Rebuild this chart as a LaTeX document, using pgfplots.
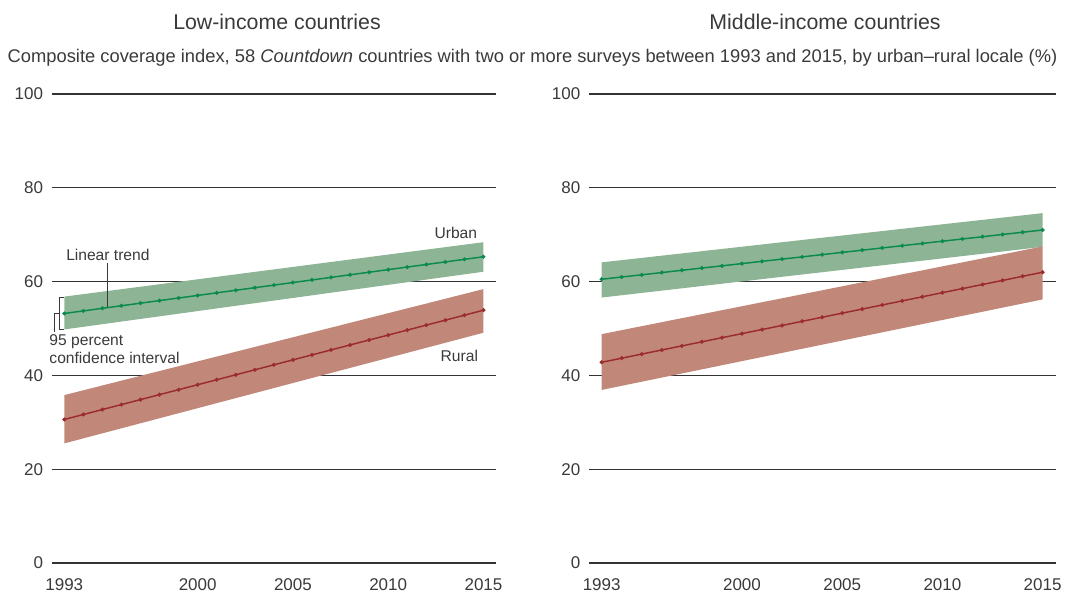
\documentclass[border=0pt]{standalone}
\usepackage{pgfplots}
\pgfplotsset{compat=1.18}
\usepackage{fontspec}
\setmainfont{Liberation Sans}
\definecolor{txt}{HTML}{3A3A3A}
\definecolor{grid}{HTML}{333333}
\definecolor{gband}{HTML}{8DB595}
\definecolor{gline}{HTML}{0A8A4C}
\definecolor{rband}{HTML}{C1887A}
\definecolor{rline}{HTML}{9B2B2E}

\pgfplotstableread{
year lu lr mu mr
1993 53.20 30.60 60.50 42.80
1994 53.75 31.66 60.98 43.67
1995 54.30 32.72 61.45 44.55
1996 54.85 33.78 61.93 45.42
1997 55.40 34.84 62.41 46.29
1998 55.95 35.90 62.89 47.16
1999 56.50 36.95 63.36 48.04
2000 57.05 38.01 63.84 48.91
2001 57.60 39.07 64.32 49.78
2002 58.15 40.13 64.80 50.65
2003 58.70 41.19 65.27 51.53
2004 59.25 42.25 65.75 52.40
2005 59.80 43.31 66.23 53.27
2006 60.35 44.37 66.70 54.15
2007 60.90 45.43 67.18 55.02
2008 61.45 46.49 67.66 55.89
2009 62.00 47.55 68.14 56.76
2010 62.55 48.60 68.61 57.64
2011 63.10 49.66 69.09 58.51
2012 63.65 50.72 69.57 59.38
2013 64.20 51.78 70.05 60.25
2014 64.75 52.84 70.52 61.13
2015 65.30 53.90 71.00 62.00
}\trend

\pgfplotsset{
  panel/.style={
    scale only axis,
    height=351.75pt,
    ymin=0, ymax=100,
    axis line style={draw=none},
    major tick length=0pt,
    tick style={draw=none},
    ytick={0,20,40,60,80,100},
    yticklabels={0,20,40,60,80,100},
    xtick={1993,2000,2005,2010,2015},
    xticklabels={1993,2000,2005,2010,2015},
    xmajorgrids=false,
    ymajorgrids=true,
    y grid style={grid, line width=0.8pt},
    tick label style={font=\fontsize{12.75pt}{15pt}\selectfont, text=txt},
    yticklabel style={anchor=east, xshift=-3pt},
    xticklabel style={anchor=north, yshift=-8pt},
    clip=false,
  },
  tline/.style={line width=1.1pt, mark=*, mark size=0.9pt},
}

\begin{document}
\begin{tikzpicture}
\useasboundingbox (0,0) rectangle (798.75pt,447pt);

% titles
\node[anchor=base, text=txt, font=\fontsize{16pt}{19pt}\selectfont] at (207.75pt,424.5pt) {Low-income countries};
\node[anchor=base, text=txt, font=\fontsize{16pt}{19pt}\selectfont] at (618.75pt,424.5pt) {Middle-income countries};
\node[anchor=base, text=txt, font=\fontsize{13.75pt}{16pt}\selectfont] at (399.4pt,399.75pt) {Composite coverage index, 58 \textit{Countdown} countries with two or more surveys between 1993 and 2015, by urban–rural locale (\%)};

% left panel
\begin{axis}[panel, at={(38.78pt,24.75pt)}, anchor=south west, width=333.2pt,
  xmin=1992.34, xmax=2015.656]
\addplot[fill=gband, draw=none] coordinates {(1993,49.8) (2015,62.1) (2015,68.4) (1993,56.8)} -- cycle;
\addplot[fill=rband, draw=none] coordinates {(1993,25.5) (2015,49.1) (2015,58.4) (1993,35.8)} -- cycle;
\addplot[tline, color=gline] table[x=year, y=lu] {\trend};
\addplot[tline, color=rline] table[x=year, y=lr] {\trend};
\node[anchor=east, text=txt, font=\fontsize{11.7pt}{14pt}\selectfont] at (axis cs:2014.91,70.43) {Urban};
\node[anchor=east, text=txt, font=\fontsize{11.7pt}{14pt}\selectfont] at (axis cs:2014.96,44.2) {Rural};
\node[anchor=west, text=txt, inner sep=0pt, font=\fontsize{11.7pt}{14pt}\selectfont] at (axis cs:1993.09,65.67) {Linear trend};
\draw[txt, line width=0.8pt] (axis cs:1995.28,63.97) -- (axis cs:1995.28,54.5);
\draw[txt, line width=0.8pt] (axis cs:1992.97,56.65) -- (axis cs:1992.76,56.65) -- (axis cs:1992.76,49.83) -- (axis cs:1992.97,49.83);
\draw[txt, line width=0.8pt] (axis cs:1992.76,53.24) -- (axis cs:1992.475,53.24) -- (axis cs:1992.475,49.3);
\node[anchor=west, text=txt, inner sep=0pt, align=left, font=\fontsize{11.7pt}{13.8pt}\selectfont] at (axis cs:1992.21,45.6) {95 percent\\confidence interval};
\end{axis}

% right panel
\begin{axis}[panel, at={(441.75pt,24.75pt)}, anchor=south west, width=350pt,
  xmin=1992.367, xmax=2015.65]
\addplot[fill=gband, draw=none] coordinates {(1993,56.6) (2015,67.4) (2015,74.6) (1993,64.1)} -- cycle;
\addplot[tline, color=gline] table[x=year, y=mu] {\trend};
\addplot[fill=rband, draw=none] coordinates {(1993,36.9) (2015,56.2) (2015,67.5) (1993,48.8)} -- cycle;
\addplot[tline, color=rline] table[x=year, y=mr] {\trend};
\end{axis}
\end{tikzpicture}
\end{document}
